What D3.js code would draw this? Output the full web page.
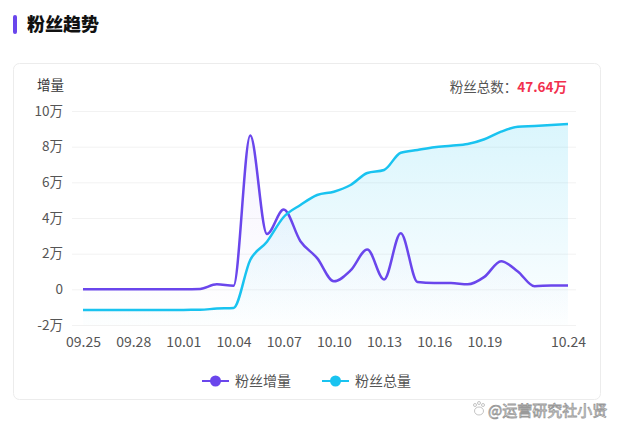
<!DOCTYPE html>
<html>
<head>
<meta charset="utf-8">
<script src="https://cdn.jsdelivr.net/npm/d3@7/dist/d3.min.js"></script>
<style>
  html, body { margin: 0; padding: 0; background: #fff; }
  svg { display: block; font-family: "Noto Sans CJK SC", "Noto Sans", sans-serif; }
</style>
</head>
<body>
<svg id="chart" width="631" height="433"></svg>
<script>
// ---- data ----
const dates = ["09.25","09.26","09.27","09.28","09.29","09.30","10.01","10.02","10.03","10.04",
               "10.05","10.06","10.07","10.08","10.09","10.10","10.11","10.12","10.13","10.14",
               "10.15","10.16","10.17","10.18","10.19","10.20","10.21","10.22","10.23","10.24"];
// 粉丝增量 (万)
const increments = [0, 0, 0, 0, 0, 0, 0, 0.02, 0.28, 0.2,
                    8.63, 3.1, 4.48, 2.7, 1.75, 0.45, 1.06, 2.24, 0.55, 3.15,
                    0.41, 0.35, 0.35, 0.28, 0.7, 1.58, 1.0, 0.17, 0.22, 0.22];
// 粉丝总量 (万)
const totals = [3.55, 3.55, 3.55, 3.55, 3.55, 3.56, 3.58, 3.6, 3.9, 4.03,
                15.4, 19.74, 25.59, 28.43, 30.8, 31.58, 33.17, 36.01, 36.72, 40.82,
                41.46, 42.1, 42.48, 42.88, 44.0, 45.8, 46.98, 47.15, 47.38, 47.64];
const yTicks = [-2, 0, 2, 4, 6, 8, 10];
const xTickIdx = [0, 3, 6, 9, 12, 15, 18, 21, 24, 29];
const seriesNames = ["粉丝增量", "粉丝总量"];
const totalLabel = "47.64万";

// ---- drawing ----
const svg = d3.select("#chart");
const purple = "#6a46ec";
const cyan = "#19c3f0";

const defs = svg.append("defs");
const g1 = defs.append("linearGradient").attr("id","gc").attr("x1",0).attr("y1",0).attr("x2",0).attr("y2",1);
g1.append("stop").attr("offset","0%").attr("stop-color",cyan).attr("stop-opacity",0.16);
g1.append("stop").attr("offset","100%").attr("stop-color",cyan).attr("stop-opacity",0.01);
const g2 = defs.append("linearGradient").attr("id","gp").attr("x1",0).attr("y1",0).attr("x2",0).attr("y2",1);
g2.append("stop").attr("offset","0%").attr("stop-color",purple).attr("stop-opacity",0.06);
g2.append("stop").attr("offset","100%").attr("stop-color",purple).attr("stop-opacity",0.0);

// title
svg.append("rect").attr("x",13).attr("y",15).attr("width",4).attr("height",19).attr("rx",2).attr("fill",purple);
svg.append("text").attr("x",27).attr("y",31).attr("font-size",18).attr("font-weight",900)
   .attr("fill","#111").text("粉丝趋势");

// card
svg.append("rect").attr("x",13.5).attr("y",63.5).attr("width",587).attr("height",336).attr("rx",6)
   .attr("fill","#fff").attr("stroke","#ececec");

// scales
const x = d3.scaleLinear().domain([0, dates.length - 1]).range([83, 568]);
const yL = d3.scaleLinear().domain([-2, 10]).range([325, 111]);
const yR = d3.scaleLinear().domain([0, 50.7]).range([325, 111]);

// y axis with gridlines
const yAxis = svg.append("g").attr("transform","translate(72,0)")
  .call(d3.axisLeft(yL).tickValues(yTicks).tickSize(-504).tickPadding(9)
        .tickFormat(d => d === 0 ? "0" : d + "万"));
yAxis.select(".domain").remove();
yAxis.selectAll("line").attr("stroke","#f2f2f2");
yAxis.selectAll("text").attr("font-size",13.5).attr("fill","#555").attr("font-family","Noto Sans CJK SC, sans-serif");

// x axis
const xAxis = svg.append("g").attr("transform","translate(0,325)")
  .call(d3.axisBottom(x).tickValues(xTickIdx).tickSize(0).tickPadding(12).tickFormat(i => dates[i]));
xAxis.select(".domain").remove();
xAxis.selectAll("text").attr("font-size",14).attr("fill","#555").attr("font-family","Noto Sans CJK SC, sans-serif");

// axis name
svg.append("text").attr("x",37).attr("y",90).attr("font-size",13.5).attr("fill","#333").text("增量");

// total label
const tl = svg.append("text").attr("x",567).attr("y",92).attr("text-anchor","end").attr("font-size",13.5);
tl.append("tspan").attr("fill","#555").text("粉丝总数：");
tl.append("tspan").attr("fill","#f2304e").attr("font-weight","bold").text(totalLabel);

const curve = d3.curveMonotoneX;
// areas
svg.append("path").datum(increments)
  .attr("d", d3.area().x((d,i)=>x(i)).y0(325).y1(d=>yL(d)).curve(curve))
  .attr("fill","url(#gp)");
svg.append("path").datum(totals)
  .attr("d", d3.area().x((d,i)=>x(i)).y0(325).y1(d=>yR(d)).curve(curve))
  .attr("fill","url(#gc)");
// lines
svg.append("path").datum(increments)
  .attr("d", d3.line().x((d,i)=>x(i)).y(d=>yL(d)).curve(curve))
  .attr("fill","none").attr("stroke",purple).attr("stroke-width",2.5);
svg.append("path").datum(totals)
  .attr("d", d3.line().x((d,i)=>x(i)).y(d=>yR(d)).curve(curve))
  .attr("fill","none").attr("stroke",cyan).attr("stroke-width",2.5);

// legend
const legend = [{name: seriesNames[0], color: purple, x: 202}, {name: seriesNames[1], color: cyan, x: 322}];
legend.forEach(l => {
  const g = svg.append("g").attr("transform",`translate(${l.x},381)`);
  g.append("line").attr("x1",0).attr("x2",27).attr("y1",0).attr("y2",0).attr("stroke",l.color).attr("stroke-width",2);
  g.append("circle").attr("cx",13.5).attr("cy",0).attr("r",5.5).attr("fill",l.color);
  g.append("text").attr("x",33).attr("y",5).attr("font-size",14).attr("fill","#555").text(l.name);
});

// watermark
const wm = svg.append("g");
[[475,405,1.5],[479,403,1.5],[483,405,1.5]].forEach(p=>{
  wm.append("circle").attr("cx",p[0]).attr("cy",p[1]).attr("r",p[2]).attr("fill","#fff").attr("stroke","#aaa").attr("stroke-width",0.7);
});
wm.append("ellipse").attr("cx",479).attr("cy",411).attr("rx",4.5).attr("ry",4).attr("fill","#fff").attr("stroke","#aaa").attr("stroke-width",0.7);
wm.append("text").attr("x",488).attr("y",416).attr("font-size",15).attr("fill","#fff")
  .attr("stroke","#999").attr("stroke-width",0.8).text("@运营研究社小贤");
</script>
</body>
</html>
